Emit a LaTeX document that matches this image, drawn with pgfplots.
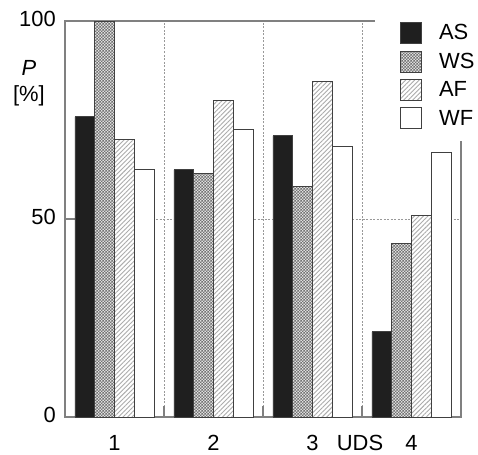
\documentclass[border=0pt]{standalone}
\usepackage{pgfplots}
\pgfplotsset{compat=1.18}
\usepackage{fontspec}
\setmainfont{Liberation Sans}
\usetikzlibrary{patterns,patterns.meta}

\pgfdeclarepatternformonly{finecheck}{\pgfqpoint{0pt}{0pt}}{\pgfqpoint{3pt}{3pt}}{\pgfqpoint{3pt}{3pt}}{%
 \pgfpathrectangle{\pgfqpoint{0pt}{0pt}}{\pgfqpoint{1.5pt}{1.5pt}}%
 \pgfpathrectangle{\pgfqpoint{1.5pt}{1.5pt}}{\pgfqpoint{1.5pt}{1.5pt}}%
 \pgfusepath{fill}}

\pgfplotsset{sqlegend/.style={legend image code/.code={\draw[##1] (0bp,-10.5bp) rectangle (21bp,10.5bp);}}}

\pgfplotstableread{
x AS WS AF WF
1 75.8 100 70.0 62.4
2 62.4 61.6 80.0 72.7
3 71.0 58.3 84.8 68.4
4 21.5 43.9 50.8 66.7
}\datatable

\begin{document}
\begin{tikzpicture}[font=\fontsize{22}{26}\selectfont]
\begin{axis}[
 width=396bp, height=396bp, scale only axis,
 xmin=0.5, xmax=4.5, ymin=0, ymax=100,
 ybar, bar width=0.2,
 axis line style={gray, line width=1.4bp},
 xtick={1.5,2.5,3.5}, xticklabels={}, xmajorgrids=true,
 extra x ticks={1,2,3,4}, extra x tick labels={1,2,3,4},
 extra x tick style={major tick length=0pt, grid=none},
 ytick={0,50,100}, ymajorgrids=true,
 tick align=inside, tick pos=left,
 tick style={gray, line width=1.2bp},
 major tick length=11bp,
 grid style={gray!80, line width=0.8bp, dash pattern=on 2bp off 1.5bp},
 /pgf/number format/assume math mode=true,
 xticklabel style={anchor=base, inner sep=0pt, yshift=-33bp},
 yticklabel style={anchor=east, inner sep=0pt, xshift=-9bp, yshift=2.5bp},
 ylabel={\textit{P}\\{[\%]}},
 ylabel style={rotate=-90, align=center, at={(axis description cs:-0.091,0.843)}, anchor=center},
 xlabel={UDS},
 xlabel style={at={(axis description cs:0.745,0)}, anchor=base, inner sep=0pt, yshift=-33bp},
 legend style={at={(axis description cs:0.783,1.0278)}, anchor=north west, draw=none, fill=white,
   inner xsep=25bp, inner ysep=12bp, row sep=6.6bp, column sep=17bp, nodes={inner sep=0pt},
   font=\fontsize{22}{26}\selectfont},
 legend cell align=left,
]
\addplot[bar shift=-0.3, draw=gray!50!black, line width=0.8bp, fill=black!88, sqlegend] table[x=x,y=AS] {\datatable};
\addplot[bar shift=-0.1, draw=gray!50!black, line width=0.8bp, fill=gray!25, postaction={pattern=finecheck, pattern color=gray!90!black}, sqlegend] table[x=x,y=WS] {\datatable};
\addplot[bar shift=0.1, draw=gray!50!black, line width=0.8bp, fill=white, postaction={pattern={Lines[angle=45,distance=3.2bp,line width=0.9bp]}, pattern color=gray!65}, sqlegend] table[x=x,y=AF] {\datatable};
\addplot[bar shift=0.3, draw=gray!50!black, line width=0.8bp, fill=white, sqlegend] table[x=x,y=WF] {\datatable};
\legend{AS,WS,AF,WF}
\coordinate (O) at (rel axis cs:0,0);
\coordinate (T) at (rel axis cs:1,1);
\end{axis}
\pgfresetboundingbox
\path ([shift={(-65bp,-37bp)}]O) rectangle ([shift={(17bp,21bp)}]T);
\end{tikzpicture}
\end{document}
